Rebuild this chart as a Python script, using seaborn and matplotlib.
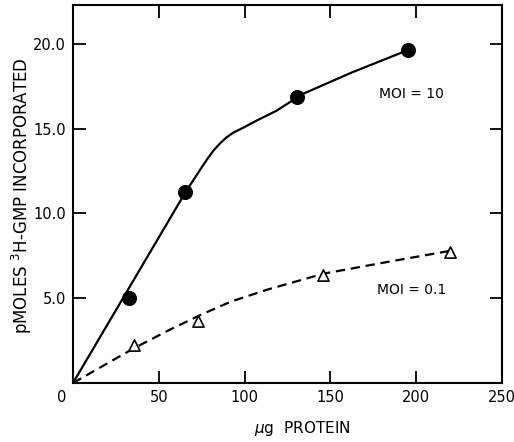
import numpy as np
import pandas as pd
import seaborn as sns
import matplotlib
matplotlib.use("Agg")
import matplotlib.pyplot as plt
import matplotlib.transforms as mtransforms

# measured points
moi10_x = [32.6, 65.5, 130.5, 195.4]
moi10_y = [5.0, 11.25, 16.9, 19.65]
moi01_x = [35.5, 72.6, 145.9, 219.9]
moi01_y = [2.25, 3.65, 6.4, 7.75]

# hand drawn curves
curve10_x = [0, 65.5, 74.0, 77.9, 81.8, 85.7, 89.6, 93.4, 99.2, 107.0, 118.7, 128.4, 130.5, 162.0, 195.4]
curve10_y = [0, 11.25, 12.57, 13.16, 13.71, 14.14, 14.5, 14.77, 15.06, 15.48, 16.07, 16.7, 16.9, 18.3, 19.65]
curve01_x = [0, 35.5, 56.5, 74.0, 92.0, 112.9, 146.0, 181.0, 219.9]
curve01_y = [0, 2.05, 3.15, 4.0, 4.8, 5.5, 6.45, 7.1, 7.8]

x_ticks = [0, 50, 100, 150, 200, 250]
y_ticks = [5, 10, 15, 20]
y_ticklabels = ["5.0", "10.0", "15.0", "20.0"]

sns.set_style("ticks")
plt.rcParams["font.family"] = ["DejaVu Sans"]

fig = plt.figure(figsize=(5.14, 4.42), dpi=100)
ax = fig.add_axes([0.142, 0.1335, 0.8347, 0.8563])

c10 = pd.DataFrame({"x": curve10_x, "y": curve10_y})
c01 = pd.DataFrame({"x": curve01_x, "y": curve01_y})
sns.lineplot(data=c10, x="x", y="y", sort=False, color="black", lw=1.6, ax=ax)
sns.lineplot(data=c01, x="x", y="y", sort=False, color="black", lw=1.6, ax=ax)
ax.lines[-1].set_dashes((4.2, 2.6))

sns.scatterplot(x=moi10_x, y=moi10_y, color="black", s=100, marker="o",
                edgecolor="black", zorder=3, ax=ax)
sns.scatterplot(x=moi01_x, y=moi01_y, facecolor="white", s=65, marker="^",
                edgecolor="black", linewidth=1.2, zorder=3, ax=ax)

ax.text(197, 17.05, "MOI = 10", ha="center", va="center", fontsize=10, color="black")
ax.text(197.3, 5.49, "MOI = 0.1", ha="center", va="center", fontsize=10, color="black")

ax.set_xlim(0, 250)
ax.set_ylim(0, 22.33)
ax.set_xticks(x_ticks)
ax.set_xticklabels([str(t) for t in x_ticks])
ax.set_yticks(y_ticks)
ax.set_yticklabels(y_ticklabels)
ax.tick_params(direction="in", length=9, width=1.3, labelsize=10.5,
               top=True, right=True, colors="black")
ax.tick_params(axis="y", pad=5)
ax.tick_params(axis="x", pad=5)
for s in ax.spines.values():
    s.set_linewidth(1.5)
    s.set_color("black")

# the "0" sits a little left of the corner in the original
lab0 = ax.get_xticklabels()[0]
lab0.set_transform(lab0.get_transform() + mtransforms.ScaledTranslation(-0.11, 0, fig.dpi_scale_trans))

ax.set_xlabel("$\\mu$g  PROTEIN", fontsize=11, color="black", va="center")
ax.xaxis.set_label_coords(0.535, -0.119)
ax.set_ylabel("pMOLES $^{3}$H-GMP INCORPORATED", fontsize=12, color="black", va="center")
ax.yaxis.set_label_coords(-0.12, 0.495)

fig.savefig("out.png", dpi=100)
